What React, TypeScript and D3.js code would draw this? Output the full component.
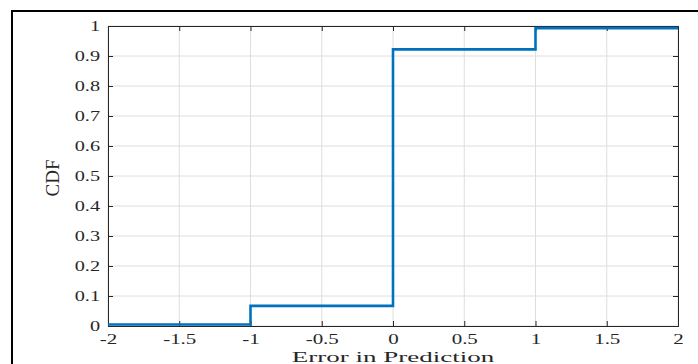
import { useEffect, useRef } from "react";
import * as d3 from "d3";

// step CDF of prediction error
const stepX = [-2, -1, 0, 1, 2];
const cdfValues = [0.005, 0.067, 0.922, 0.993, 0.993];
const xTicks = [-2, -1.5, -1, -0.5, 0, 0.5, 1, 1.5, 2];
const yTicks = [0, 0.1, 0.2, 0.3, 0.4, 0.5, 0.6, 0.7, 0.8, 0.9, 1];

const W = 698;
const H = 364;
const m = { left: 108, right: 20, top: 26, bottom: 38 };

const App = () => {
  const svgRef = useRef<SVGSVGElement>(null);

  useEffect(() => {
    const svg = d3.select(svgRef.current);
    svg.selectAll("*").remove();

    const x = d3.scaleLinear().domain([-2, 2]).range([m.left, W - m.right]);
    const y = d3.scaleLinear().domain([0, 1]).range([H - m.bottom, m.top]);
    const font = "'Liberation Serif', 'Times New Roman', serif";
    const axisColor = "#262626";

    // outer frame (cut off at right/bottom)
    svg
      .append("rect")
      .attr("x", 12)
      .attr("y", 11)
      .attr("width", W)
      .attr("height", H)
      .attr("fill", "none")
      .attr("stroke", "#000")
      .attr("stroke-width", 2);

    // grid
    svg
      .append("g")
      .selectAll("line")
      .data(xTicks)
      .join("line")
      .attr("x1", (d) => x(d))
      .attr("x2", (d) => x(d))
      .attr("y1", y(0))
      .attr("y2", y(1))
      .attr("stroke", "#dedede");
    svg
      .append("g")
      .selectAll("line")
      .data(yTicks)
      .join("line")
      .attr("x1", x(-2))
      .attr("x2", x(2))
      .attr("y1", (d) => y(d))
      .attr("y2", (d) => y(d))
      .attr("stroke", "#dedede");

    // axes, ticks inside on all four sides
    const fmt = (d: number) => String(d);
    const bottom = svg
      .append("g")
      .attr("transform", `translate(0,${y(0)})`)
      .call(d3.axisBottom(x).tickValues(xTicks).tickSize(-5).tickPadding(8).tickFormat(fmt as any));
    const left = svg
      .append("g")
      .attr("transform", `translate(${x(-2)},0)`)
      .call(d3.axisLeft(y).tickValues(yTicks).tickSize(-5).tickFormat(fmt as any));
    svg
      .append("g")
      .attr("transform", `translate(0,${y(1)})`)
      .call(d3.axisTop(x).tickValues(xTicks).tickSize(-5).tickFormat(() => ""));
    svg
      .append("g")
      .attr("transform", `translate(${x(2)},0)`)
      .call(d3.axisRight(y).tickValues(yTicks).tickSize(-5).tickFormat(() => ""));

    svg.selectAll(".domain, .tick line").attr("stroke", axisColor);

    [bottom, left].forEach((g) =>
      g
        .selectAll("text")
        .attr("font-family", font)
        .attr("font-size", 14)
        .attr("fill", axisColor)
    );
    bottom.selectAll(".tick text").attr("transform", "scale(1.5,1)").attr("x", 0);
    left
      .selectAll(".tick text")
      .attr("transform", "scale(1.45,1)")
      .attr("x", -5.5)
      .attr("text-anchor", "end");

    // CDF line
    const line = d3
      .line<number>()
      .x((_, i) => x(stepX[i]))
      .y((d) => y(d))
      .curve(d3.curveStepAfter);
    svg
      .append("path")
      .datum(cdfValues)
      .attr("d", line)
      .attr("fill", "none")
      .attr("stroke", "#0072BD")
      .attr("stroke-width", 2.6);

    // axis labels
    svg
      .append("text")
      .attr("transform", `translate(${x(0)},362) scale(1.8,1)`)
      .attr("text-anchor", "middle")
      .attr("font-family", font)
      .attr("font-size", 15)
      .attr("fill", axisColor)
      .text("Error in Prediction");
    svg
      .append("text")
      .attr("transform", `translate(59,178) rotate(-90)`)
      .attr("text-anchor", "middle")
      .attr("font-family", font)
      .attr("font-size", 19)
      .attr("fill", axisColor)
      .text("CDF");
  }, []);

  return (
    <svg
      ref={svgRef}
      width={W}
      height={H}
      style={{ position: "absolute", left: 0, top: 0, background: "#fff" }}
    ></svg>
  );
};

export default App;
